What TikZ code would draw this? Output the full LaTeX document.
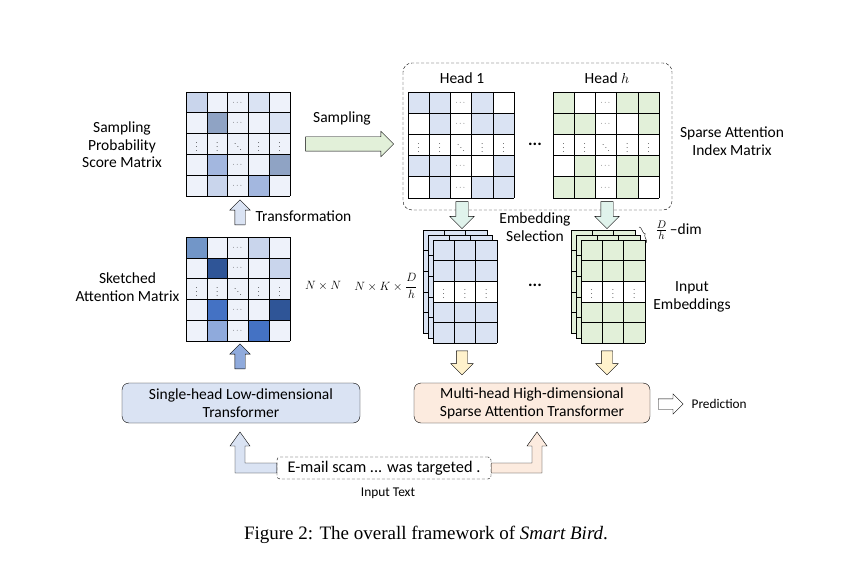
\documentclass[tikz,border=0pt]{standalone}
\usepackage{fontspec}
\setmainfont{Carlito}
\newfontfamily\capfont{Liberation Serif}
\usepackage{amsmath,amssymb}
\usepackage{tikz}
\usetikzlibrary{shapes.arrows,decorations.pathreplacing}

\definecolor{vl}{HTML}{EEF2FA}
\definecolor{b1}{HTML}{C9D5EC}
\definecolor{b2}{HTML}{DAE3F3}
\definecolor{b3}{HTML}{8FA3C4}
\definecolor{b4}{HTML}{A3B7DF}
\definecolor{b5}{HTML}{7296C8}
\definecolor{b6}{HTML}{2F5597}
\definecolor{b7}{HTML}{4472C4}
\definecolor{b8}{HTML}{8FAADC}
\definecolor{hb}{HTML}{DAE3F3}
\definecolor{hg}{HTML}{E2F0D9}
\definecolor{mint}{HTML}{E0F3EC}
\definecolor{cream}{HTML}{FFF2CC}
\definecolor{peach}{HTML}{FCEBDF}

\tikzset{
  lbl/.style={font=\fontsize{15.5}{17.5}\selectfont, align=center},
  blk/.style={single arrow, draw, inner xsep=0pt, single arrow tip angle=90, thin},
  tbox/.style={draw, rounded corners=7pt, thin, align=center, font=\fontsize{15.5}{18}\selectfont},
  gap/.style={font=\fontsize{17}{17}\selectfont\bfseries}
}

% 5x5 score matrix: x, y, cell, colours
\newcommand{\heatgrid}[4]{%
  \foreach \c [count=\k from 0] in {#4}{
    \pgfmathtruncatemacro{\hrow}{div(\k,5)}
    \pgfmathtruncatemacro{\hcol}{mod(\k,5)}
    \fill[\c] ({#1+\hcol*#3},{#2+\hrow*#3}) rectangle ++(#3,#3);
  }
  \foreach \i in {0,...,5}{
    \draw ({#1+\i*#3},#2) -- ++(0,5*#3);
    \draw (#1,{#2+\i*#3}) -- ++(5*#3,0);
  }
  \foreach \j in {0,1,3,4}{
    \node[font=\scriptsize] at ({#1+2.5*#3},{#2+(\j+0.5)*#3}) {$\cdots$};
    \node[font=\scriptsize] at ({#1+(\j+0.5)*#3},{#2+2.5*#3}) {$\vdots$};
  }
  \node[font=\scriptsize] at ({#1+2.5*#3},{#2+2.5*#3}) {$\ddots$};
}

% stacked embeddings: x, y of front layer, colour
\newcommand{\embstack}[3]{%
  \foreach \l in {2,1,0}{
    \fill[#3] ({#1-5*\l},{#2-5*\l}) rectangle ++(64,103);
    \foreach \i in {0,...,3} \draw ({#1-5*\l+\i*21.33},{#2-5*\l}) -- ++(0,103);
    \foreach \i in {0,...,5} \draw ({#1-5*\l},{#2-5*\l+\i*20.6}) -- ++(64,0);
  }
  \fill[white] (#1,{#2+2*20.6}) rectangle ++(64,20.6);
  \draw (#1,{#2+2*20.6}) rectangle ++(64,20.6);
  \foreach \i in {0,1,2} \draw ({#1+\i*21.33},#2) -- ++(0,103);
  \foreach \i in {0,1,2} \node[font=\scriptsize] at ({#1+(\i+0.5)*21.33},{#2+2.5*20.6}) {$\vdots$};
}

\begin{document}
\begin{tikzpicture}[x=1pt,y=-1pt,semithick]
  \useasboundingbox (0,0) rectangle (853,572);

  % left column
  \heatgrid{186}{92}{20.8}{b1,vl,vl,b2,vl, vl,b3,vl,vl,b2, vl,vl,vl,vl,vl, vl,b4,vl,vl,b3, vl,b1,vl,b4,vl}
  \heatgrid{186}{237}{20.8}{b5,vl,vl,b1,vl, vl,b6,vl,vl,b1, vl,vl,vl,vl,vl, vl,b7,vl,vl,b6, vl,b8,vl,b7,vl}
  \node[lbl] (sps) at (122,145) {Sampling\\Probability\\Score Matrix};
  \node[lbl, anchor=east] (sam) at (183,287) {Sketched\\Attention Matrix};
  \node[blk, fill=b2, minimum height=25, inner ysep=5, single arrow head extend=5, rotate=90] (tr) at (240,215) {};
  \node[lbl, anchor=west] (trl) at (252,216) {Transformation};
  \node[blk, fill=b8, minimum height=25, inner ysep=5, single arrow head extend=5, rotate=90] (up) at (240,359) {};
  \node[font=\fontsize{13}{15}\selectfont] (nn) at (323,286) {$N\times N$};
  \node[font=\fontsize{13}{15}\selectfont] (nk) at (386,286) {$N\times K\times\dfrac{D}{h}$};

  % sampling
  \node[blk, fill=hg, minimum height=88, inner ysep=7, single arrow head extend=5.5] (smp) at (346,144) {};
  \node[lbl] (smpl) at (342,118) {Sampling};

  % sparse index matrices
  \draw[densely dashed, rounded corners=9pt, thin] (403,63) rectangle (672,210);
  \heatgrid{408}{92}{21.2}{hb,hb,white,hb,white, white,hb,white,hb,hb, white,white,white,white,white, hb,hb,white,white,hb, white,hb,white,hb,hb}
  \heatgrid{553}{92}{21.2}{hg,white,white,hg,hg, hg,hg,white,white,hg, white,white,white,white,white, white,hg,white,hg,hg, hg,hg,white,hg,white}
  \node[lbl] (h1) at (462,78) {Head 1};
  \node[lbl] (hh) at (607,78) {Head $h$};
  \node[gap] (hd) at (535,144) {...};
  \node[lbl] (sai) at (732,141) {Sparse Attention\\Index Matrix};

  % embedding selection
  \node[blk, fill=mint, minimum height=27, inner ysep=6, single arrow head extend=6, rotate=-90] (es1) at (462,212) {};
  \node[blk, fill=mint, minimum height=27, inner ysep=6, single arrow head extend=6, rotate=-90] (es2) at (607,212) {};
  \node[lbl] (esl) at (535,227) {Embedding\\Selection};
  \embstack{433}{240}{hb}
  \embstack{581}{240}{hg}
  \draw[decorate, decoration={brace, amplitude=3pt}, thin] (639,227) -- (646,243);
  \node[lbl, anchor=west] (dim) at (652,230) {$\tfrac{D}{h}$\,--dim};
  \node[gap] (ed) at (535,285) {...};
  \node[lbl] (ie) at (692,297) {Input\\Embeddings};
  \node[blk, fill=cream, minimum height=24, inner ysep=5.5, single arrow head extend=5.5, rotate=-90] (y1) at (462,360) {};
  \node[blk, fill=cream, minimum height=24, inner ysep=5.5, single arrow head extend=5.5, rotate=-90] (y2) at (607,360) {};

  % transformers
  \node[tbox, fill=b2, minimum width=238, minimum height=40] (sh) at (241,403) {Single-head Low-dimensional\\Transformer};
  \node[tbox, fill=peach, minimum width=236, minimum height=40] (mh) at (532,403) {Multi-head High-dimensional\\Sparse Attention Transformer};
  \node[blk, fill=white, minimum height=25, inner ysep=5, single arrow head extend=5, anchor=tail] (pr) at (658,404) {};
  \node[font=\fontsize{13.3}{15}\selectfont, anchor=west] (prl) at (688,404) {Prediction};

  % input text
  \node[draw, densely dashed, thin, rounded corners=3pt, inner sep=2pt, font=\fontsize{16.3}{18}\selectfont, minimum width=214, minimum height=22] (it) at (384,468) {E-mail scam ... was targeted .};
  \node[font=\fontsize{13.4}{15}\selectfont] (itl) at (388,493) {Input Text};
  \filldraw[fill=b2, thin] (it.west |- 0,463) -- (245,463) -- (245,446) -- (250,446) -- (240,432) -- (230,446) -- (235,446) -- (235,473) -- (it.west |- 0,473) -- cycle;
  \filldraw[fill=peach, thin] (it.east |- 0,463) -- (532,463) -- (532,446) -- (527,446) -- (537,432) -- (547,446) -- (542,446) -- (542,473) -- (it.east |- 0,473) -- cycle;

  \node[font=\capfont\fontsize{19}{22}\selectfont] (cap) at (426,535) {Figure 2: The overall framework of \textit{Smart Bird}.};
\end{tikzpicture}
\end{document}
